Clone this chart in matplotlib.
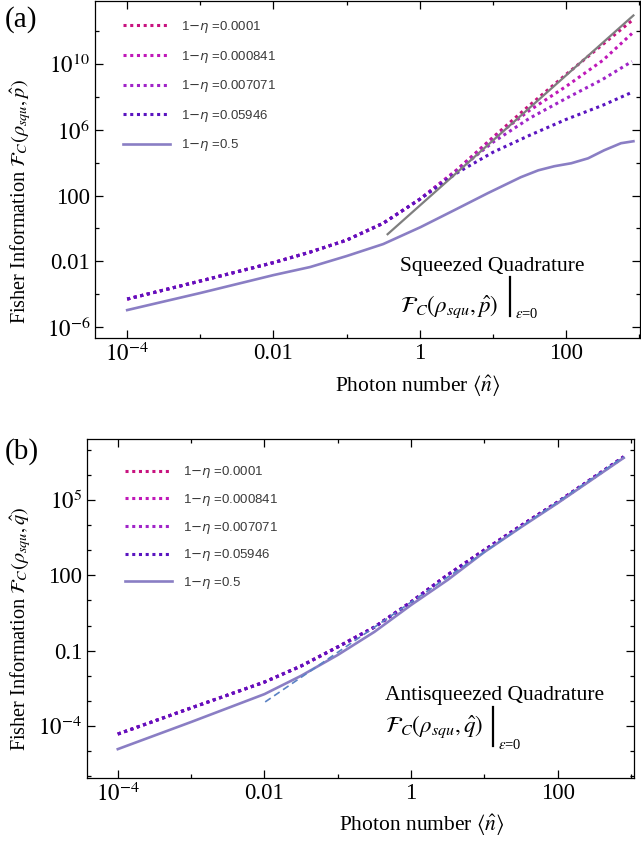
import numpy as np
import matplotlib
matplotlib.use('Agg')
import matplotlib.pyplot as plt
from matplotlib.ticker import FixedLocator, FixedFormatter, NullFormatter

plt.rcParams['font.family'] = ['Liberation Serif', 'DejaVu Serif']
plt.rcParams['mathtext.fontset'] = 'stix'

# legend labels and colours
etas = ['0.0001', '0.000841', '0.007071', '0.05946', '0.5']
colors = ['#c8137f', '#c018b8', '#a024c8', '#5a14c0', '#8a7ec4']

# ---- panel (a): squeezed quadrature, log10 values
a_logn = [-4, -3, -2, -1.5, -1, -0.5, 0, 0.5, 1, 1.5, 2, 2.5, 2.9]
a_eta1 = [-4.30, -3.20, -2.08, -1.44, -0.71, 0.32, 1.78, 3.54, 5.55, 7.50, 9.38, 11.20, 12.66]
a_eta2 = [-4.30, -3.20, -2.08, -1.44, -0.71, 0.32, 1.78, 3.54, 5.49, 7.19, 8.65, 10.23, 11.87]
a_eta3 = [-4.30, -3.20, -2.08, -1.44, -0.71, 0.32, 1.78, 3.48, 5.25, 6.71, 7.92, 9.08, 10.17]
a_eta4 = [-4.30, -3.20, -2.08, -1.44, -0.71, 0.32, 1.78, 3.36, 4.64, 5.67, 6.64, 7.50, 8.29]
a_logn5 = [-4, -3, -2, -1.5, -1, -0.5, 0.01, 0.47, 0.93, 1.38, 1.62, 1.84, 2.07, 2.30, 2.52, 2.75, 2.92]
a_eta5 = [-4.97, -3.93, -2.84, -2.35, -1.68, -0.95, 0.08, 1.11, 2.15, 3.12, 3.54, 3.79, 3.97, 4.27, 4.76, 5.19, 5.31]
a_asym_logn = [-0.44, 2.92]
a_asym = [-0.35, 12.97]

# ---- panel (b): antisqueezed quadrature
b_logn = [-4, -3, -2, -1.5, -1, -0.5, 0, 0.5, 1, 1.5, 2, 2.5, 2.9]
b_dotted = [-4.32, -3.28, -2.25, -1.61, -0.85, -0.06, 0.94, 2.02, 3.01, 3.98, 4.92, 5.92, 6.72]
b_solid = [-4.92, -3.84, -2.73, -2.00, -1.17, -0.25, 0.82, 1.82, 2.93, 3.92, 4.88, 5.88, 6.68]
b_asym_logn = [-1.99, 2.90]
b_asym = [-3.04, 6.72]


def p(v):
    return 10.0 ** np.array(v)


def sci(e):
    if e == 0:
        return '1'
    if -2 <= e <= 2:
        return '{:g}'.format(10.0 ** e)
    return r'$10^{%d}$' % e


def frame(ax, xlim, ylim, xmaj, xmin, ymaj, ymin):
    ax.set_xscale('log')
    ax.set_yscale('log')
    ax.set_xlim(p(xlim))
    ax.set_ylim(p(ylim))
    ax.xaxis.set_major_locator(FixedLocator(p(xmaj)))
    ax.xaxis.set_major_formatter(FixedFormatter([sci(e) for e in xmaj]))
    ax.xaxis.set_minor_locator(FixedLocator(p(xmin)))
    ax.xaxis.set_minor_formatter(NullFormatter())
    ax.yaxis.set_major_locator(FixedLocator(p(ymaj)))
    ax.yaxis.set_major_formatter(FixedFormatter([sci(e) for e in ymaj]))
    ax.yaxis.set_minor_locator(FixedLocator(p(ymin)))
    ax.yaxis.set_minor_formatter(NullFormatter())
    ax.tick_params(which='both', direction='in', top=True, right=True, labelsize=16.5, width=0.9)
    ax.tick_params(which='major', length=6)
    ax.tick_params(which='minor', length=3)
    for s in ax.spines.values():
        s.set_linewidth(0.9)


fig = plt.figure(figsize=(6.41, 8.42), dpi=100)
axa = fig.add_axes([95/641, 1 - 338/842, 545/641, 337.5/842])
axb = fig.add_axes([87/641, 1 - 778/842, 547/641, 339/842])

dot = dict(ls=(0, (1, 1.2)), lw=2.2)

# (a)
for ys, c, e in zip([a_eta1, a_eta2, a_eta3, a_eta4], colors, etas):
    axa.plot(p(a_logn), p(ys), color=c, label=r'1$-\eta$ =' + e, **dot)
axa.plot(p(a_logn5), p(a_eta5), color=colors[4], lw=1.9, label=r'1$-\eta$ =' + etas[4])
axa.plot(p(a_asym_logn), p(a_asym), color='#7f7f7f', lw=1.6)
frame(axa, (-4.44, 3.01), (-6.67, 13.88), [-4, -2, 0, 2], [-3, -1, 1, 3],
      [-6, -2, 2, 6, 10], [-4, 0, 4, 8, 12])

# (b)
for c, e in zip(colors[:4], etas[:4]):
    axb.plot(p(b_logn), p(b_dotted), color=c, label=r'1$-\eta$ =' + e, **dot)
axb.plot(p(b_logn), p(b_solid), color=colors[4], lw=1.9, label=r'1$-\eta$ =' + etas[4])
axb.plot(p(b_asym_logn), p(b_asym), color='#5b82c4', lw=1.2, ls=(0, (4, 2.5)))
frame(axb, (-4.42, 3.04), (-6.07, 7.43), [-4, -2, 0, 2], [-3, -1, 1, 3],
      [-4, -1, 2, 5], [-6, -5, -3, -2, 0, 1, 3, 4, 6, 7])

for ax, anc, sp in [(axa, (0.051, 0.945), 1.03), (axb, (0.069, 0.925), 0.88)]:
    leg = ax.legend(loc='upper left', bbox_to_anchor=anc, frameon=False,
                    handlelength=3.6, handletextpad=0.8, labelspacing=sp,
                    borderpad=0, borderaxespad=0,
                    prop={'family': 'Liberation Sans', 'size': 9.5})
    for t in leg.get_texts():
        t.set_color('#3a3a3a')
        t.set_math_fontfamily('dejavusans')

# axis labels
axa.set_xlabel(r'Photon number $\langle\hat{n}\rangle$', fontsize=15.5)
axa.xaxis.set_label_coords(0.592, -0.106)
axa.set_ylabel(r'Fisher Information $\mathcal{F}_C(\rho_{squ},\hat{p})$', fontsize=14.6)
axa.yaxis.set_label_coords(-0.114, 0.405)
axb.set_xlabel(r'Photon number $\langle\hat{n}\rangle$', fontsize=15.5)
axb.xaxis.set_label_coords(0.613, -0.104)
axb.set_ylabel(r'Fisher Information $\mathcal{F}_C(\rho_{squ},\hat{q})$', fontsize=14.6)
axb.yaxis.set_label_coords(-0.099, 0.44)

# annotations
for ax, title, formula, tx, ty, fy, bx, by0, by1, sx, sy in [
        (axa, 'Squeezed Quadrature', r'$\mathcal{F}_C(\rho_{squ},\hat{p})$',
         0.560, 0.198, 0.077, 0.761, 0.180, 0.065, 0.771, 0.059),
        (axb, 'Antisqueezed Quadrature', r'$\mathcal{F}_C(\rho_{squ},\hat{q})$',
         0.545, 0.230, 0.136, 0.742, 0.209, 0.094, 0.751, 0.086)]:
    ax.text(tx, ty, title, transform=ax.transAxes, fontsize=15.5, va='baseline')
    ax.text(tx, fy, formula, transform=ax.transAxes, fontsize=16.5, va='baseline')
    ax.plot([bx, bx], [by0, by1], transform=ax.transAxes, color='black', lw=1.6)
    ax.text(sx, sy, r'$\varepsilon$=0', transform=ax.transAxes, fontsize=10.5, va='baseline')

fig.text(5/641, 1 - 6/842, '(a)', fontsize=21, va='top')
fig.text(5/641, 1 - 438/842, '(b)', fontsize=21, va='top')

fig.savefig('out.png', dpi=100)
